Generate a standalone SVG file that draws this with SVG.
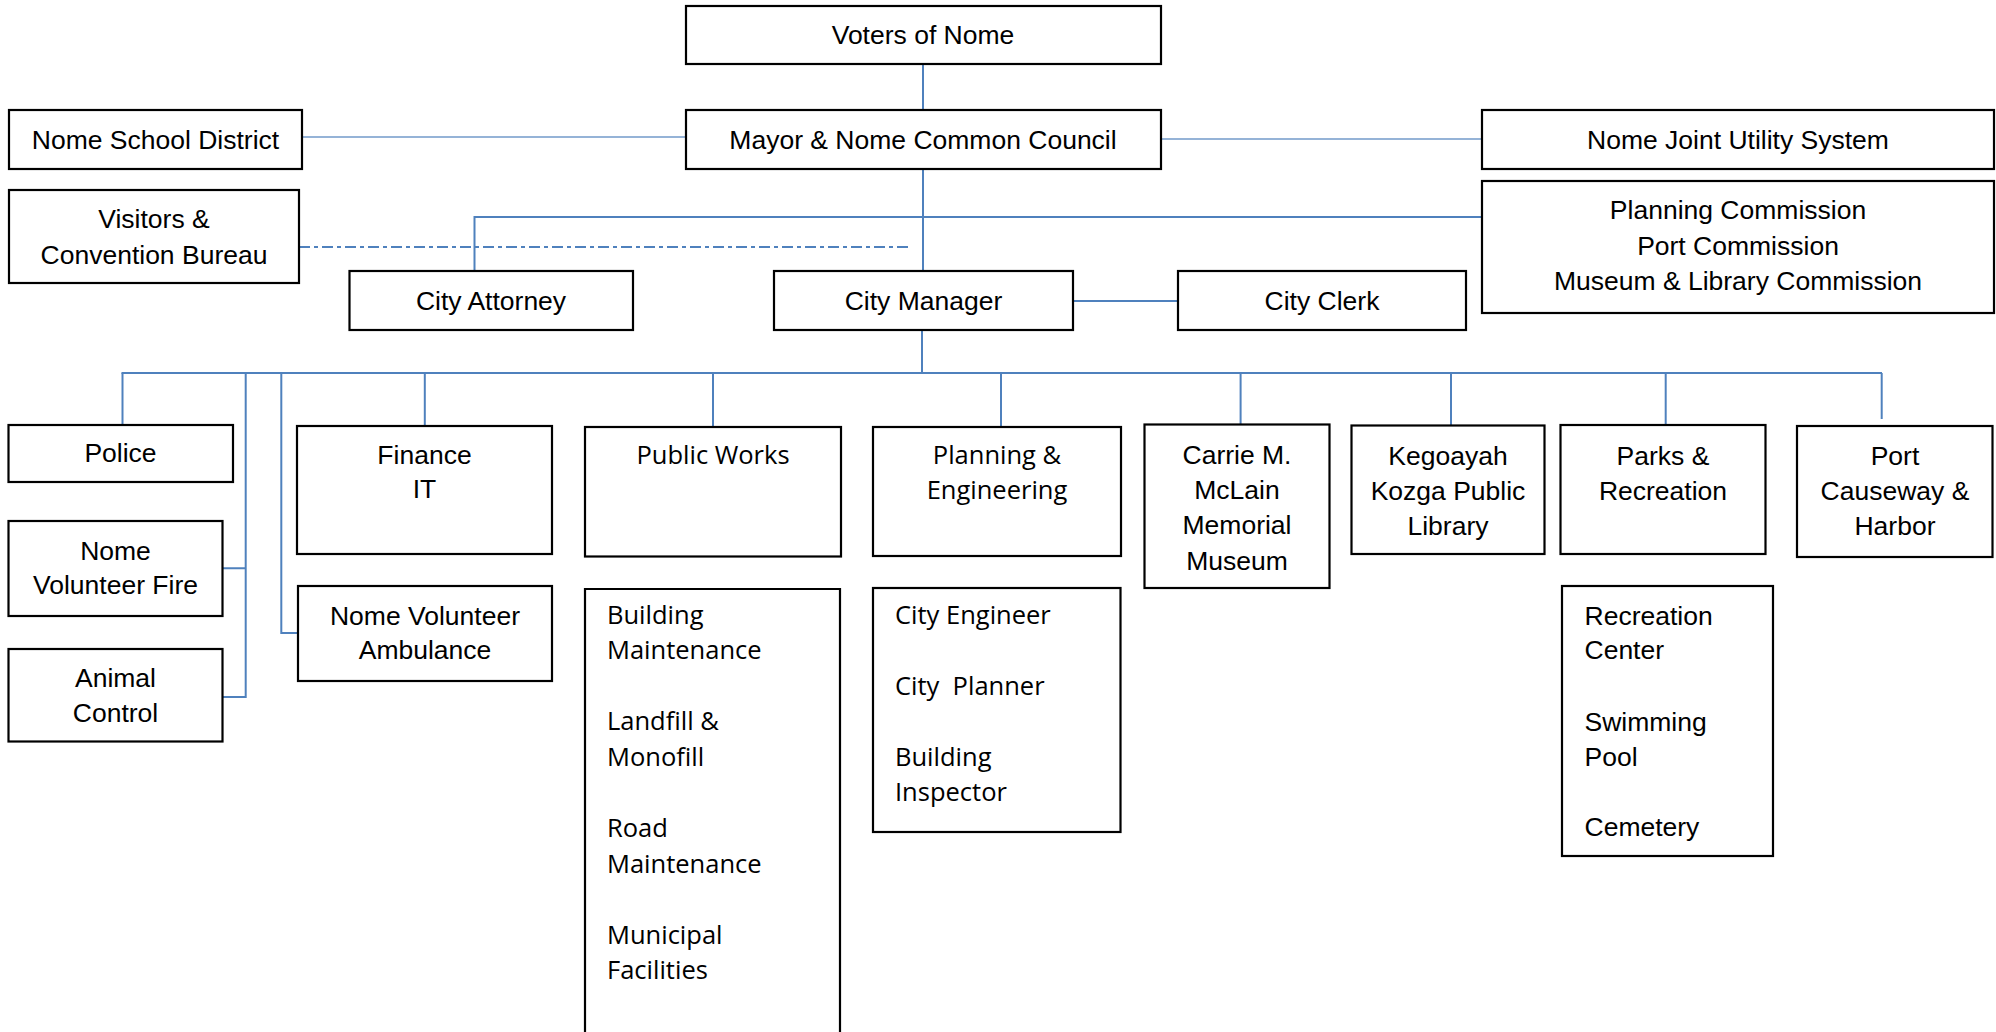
<svg xmlns="http://www.w3.org/2000/svg" width="1996" height="1032" viewBox="0 0 1996 1032">
<style>
.box{fill:#fff;stroke:#000;stroke-width:2.2}
.c{font-family:"Liberation Sans",Arial,sans-serif;font-size:26.5px;fill:#000;text-anchor:middle}
.cl{font-family:"Liberation Sans",Arial,sans-serif;font-size:26.5px;fill:#000}
.w{font-family:"Open Sans","Noto Sans",sans-serif;font-size:25.5px;fill:#000;text-anchor:middle}
.wl{font-family:"Open Sans","Noto Sans",sans-serif;font-size:25.5px;fill:#000}
.ln{fill:none;stroke:#4F81BD;stroke-width:2}
.lt{fill:none;stroke:#95B3D7;stroke-width:2}
.dd{fill:none;stroke:#4F81BD;stroke-width:2;stroke-dasharray:11 4 4 4}
</style>
<rect width="1996" height="1032" fill="#fff"/>
<g id="connectors">
<path class="ln" d="M923 64V110"/>
<path class="lt" d="M302 137H686"/>
<path class="lt" d="M1161 139H1482"/>
<path class="ln" d="M923 169V271"/>
<path class="ln" d="M474.5 271V217H1482"/>
<path class="dd" d="M299 247H911"/>
<path class="ln" d="M1073 301H1178"/>
<path class="ln" d="M922 330V373"/>
<path class="ln" d="M121.5 373H1882"/>
<path class="ln" d="M122.5 373V425"/>
<path class="ln" d="M245.7 373V697H222.7M222.7 568.3H245.7"/>
<path class="ln" d="M281.3 373V633H298"/>
<path class="ln" d="M424.8 373V426"/>
<path class="ln" d="M713 373V427"/>
<path class="ln" d="M1001 373V427"/>
<path class="ln" d="M1240.6 373V424.5"/>
<path class="ln" d="M1451 373V425.5"/>
<path class="ln" d="M1665.7 373V425"/>
<path class="ln" d="M1881.7 373V419"/>
</g>
<g id="voters"><rect class="box" x="686" y="6" width="475" height="58"/><text class="c" x="923" y="44">Voters of Nome</text></g>
<g id="mayor"><rect class="box" x="686" y="110" width="475" height="59"/><text class="c" x="923" y="148.5">Mayor &amp; Nome Common Council</text></g>
<g id="school"><rect class="box" x="9" y="110" width="293" height="59"/><text class="c" x="155.5" y="148.5">Nome School District</text></g>
<g id="utility"><rect class="box" x="1482" y="110" width="512" height="59"/><text class="c" x="1738" y="148.5">Nome Joint Utility System</text></g>
<g id="visitors"><rect class="box" x="9" y="190" width="290" height="93"/><text class="c" x="154" y="228">Visitors &amp;</text><text class="c" x="154" y="264">Convention Bureau</text></g>
<g id="commissions"><rect class="box" x="1482" y="181" width="512" height="132"/><text class="c" x="1738" y="219">Planning Commission</text><text class="c" x="1738" y="255">Port Commission</text><text class="c" x="1738" y="290">Museum &amp; Library Commission</text></g>
<g id="attorney"><rect class="box" x="349.5" y="271" width="283.5" height="59"/><text class="c" x="491" y="309.5">City Attorney</text></g>
<g id="manager"><rect class="box" x="774" y="271" width="299" height="59"/><text class="c" x="923.5" y="309.5">City Manager</text></g>
<g id="clerk"><rect class="box" x="1178" y="271" width="288" height="59"/><text class="c" x="1322" y="309.5">City Clerk</text></g>
<g id="police"><rect class="box" x="8.5" y="425" width="224.5" height="57"/><text class="c" x="120.5" y="462">Police</text></g>
<g id="fire"><rect class="box" x="8.5" y="521" width="214" height="95"/><text class="c" x="115.5" y="560">Nome</text><text class="c" x="115.5" y="594">Volunteer Fire</text></g>
<g id="animal"><rect class="box" x="8.5" y="649" width="214" height="92.5"/><text class="c" x="115.5" y="687">Animal</text><text class="c" x="115.5" y="722">Control</text></g>
<g id="finance"><rect class="box" x="297" y="426" width="255" height="128"/><text class="c" x="424.5" y="464">Finance</text><text class="c" x="424.5" y="498">IT</text></g>
<g id="ambulance"><rect class="box" x="298" y="586" width="254" height="95"/><text class="c" x="425" y="625">Nome Volunteer</text><text class="c" x="425" y="659">Ambulance</text></g>
<g id="publicworks"><rect class="box" x="585" y="427" width="256" height="129.5"/><text class="w" x="713" y="464">Public Works</text></g>
<g id="pwlist"><path class="box" d="M585 1040V589H840V1040"/>
<text class="wl" x="607" y="624">Building</text><text class="wl" x="607" y="659">Maintenance</text>
<text class="wl" x="607" y="730">Landfill &amp;</text><text class="wl" x="607" y="766">Monofill</text>
<text class="wl" x="607" y="837">Road</text><text class="wl" x="607" y="873">Maintenance</text>
<text class="wl" x="607" y="944">Municipal</text><text class="wl" x="607" y="979">Facilities</text></g>
<g id="planning"><rect class="box" x="873" y="427" width="248" height="129"/><text class="w" x="997" y="464">Planning &amp;</text><text class="w" x="997" y="499">Engineering</text></g>
<g id="planlist"><rect class="box" x="873" y="588" width="247.5" height="244"/>
<text class="wl" x="895" y="624">City Engineer</text>
<text class="wl" x="895" y="695" xml:space="preserve">City  Planner</text>
<text class="wl" x="895" y="766">Building</text><text class="wl" x="895" y="801">Inspector</text></g>
<g id="museum"><rect class="box" x="1144.5" y="424.5" width="185" height="163.5"/><text class="c" x="1237" y="463.5">Carrie M.</text><text class="c" x="1237" y="499">McLain</text><text class="c" x="1237" y="533.5">Memorial</text><text class="c" x="1237" y="569.5">Museum</text></g>
<g id="library"><rect class="box" x="1351.5" y="425.5" width="193" height="128.5"/><text class="c" x="1448" y="464.5">Kegoayah</text><text class="c" x="1448" y="499.5">Kozga Public</text><text class="c" x="1448" y="535">Library</text></g>
<g id="parks"><rect class="box" x="1560.5" y="425" width="205" height="129"/><text class="c" x="1663" y="464.5">Parks &amp;</text><text class="c" x="1663" y="499.5">Recreation</text></g>
<g id="port"><rect class="box" x="1797" y="426" width="195.5" height="131"/><text class="c" x="1895" y="464.5">Port</text><text class="c" x="1895" y="499.5">Causeway &amp;</text><text class="c" x="1895" y="535">Harbor</text></g>
<g id="parkslist"><rect class="box" x="1562" y="586" width="211" height="270"/>
<text class="cl" x="1584.5" y="625">Recreation</text><text class="cl" x="1584.5" y="659">Center</text>
<text class="cl" x="1584.5" y="731">Swimming</text><text class="cl" x="1584.5" y="765.5">Pool</text>
<text class="cl" x="1584.5" y="836">Cemetery</text></g>
</svg>
